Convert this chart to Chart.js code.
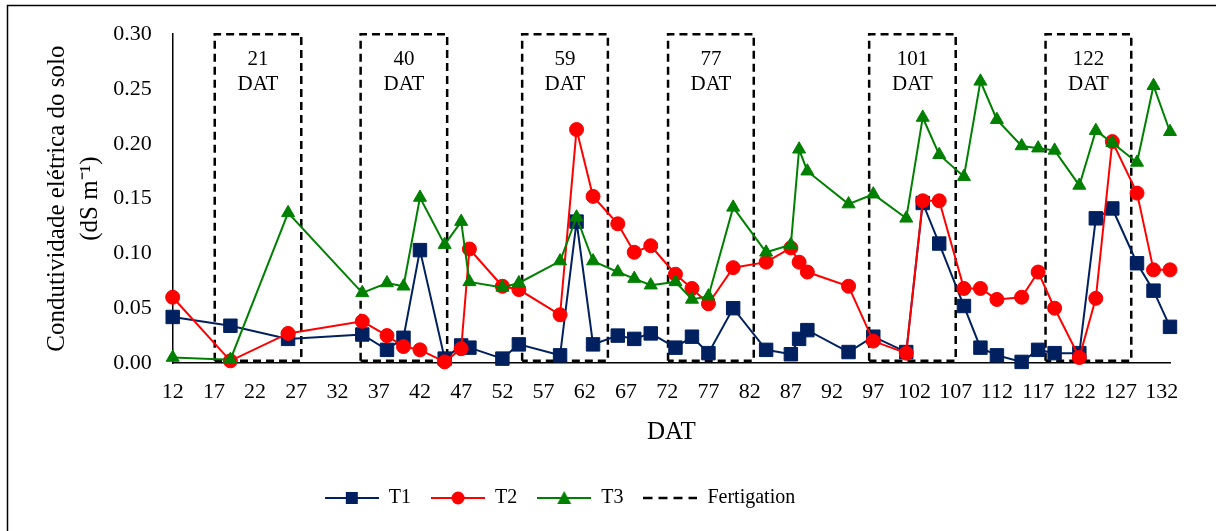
<!DOCTYPE html>
<html>
<head>
<meta charset="utf-8">
<title>Condutividade elétrica do solo</title>
<script src="https://cdn.jsdelivr.net/npm/chart.js"></script>
<style>
  body { margin: 0; background: #fff; }
</style>
</head>
<body>
<canvas id="myChart" width="1216" height="531"></canvas>
<script>
var navy = "rgba(0, 32, 96, 1)";
var red = "rgba(255, 0, 0, 1)";
var green = "rgba(0, 128, 0, 1)";

// days after transplanting (same for all treatments)
var dat = [12, 19, 26, 35, 38, 40, 42, 45, 47, 48, 52, 54, 59, 61, 63, 66, 68, 70, 73, 75, 77, 80,
           84, 87, 88, 89, 94, 97, 101, 103, 105, 108, 110, 112, 115, 117, 119, 122, 124, 126, 129, 131, 133];
var t1 = [0.042, 0.034, 0.022, 0.026, 0.012, 0.023, 0.103, 0.004, 0.016, 0.014, 0.004, 0.017, 0.007, 0.129,
          0.017, 0.025, 0.022, 0.027, 0.014, 0.024, 0.009, 0.050, 0.012, 0.008, 0.022, 0.030, 0.010, 0.024,
          0.010, 0.146, 0.109, 0.052, 0.014, 0.007, 0.001, 0.012, 0.009, 0.009, 0.132, 0.141, 0.091, 0.066, 0.033];
var t2 = [0.060, 0.002, 0.027, 0.038, 0.025, 0.015, 0.012, 0.001, 0.013, 0.104, 0.070, 0.067, 0.044, 0.213,
          0.152, 0.127, 0.101, 0.107, 0.081, 0.068, 0.054, 0.087, 0.092, 0.105, 0.092, 0.083, 0.070, 0.020,
          0.009, 0.148, 0.148, 0.068, 0.068, 0.058, 0.060, 0.083, 0.050, 0.005, 0.059, 0.202, 0.155, 0.085, 0.085];
var t3 = [0.005, 0.003, 0.137, 0.064, 0.073, 0.070, 0.151, 0.108, 0.129, 0.074, 0.069, 0.073, 0.093, 0.133,
          0.093, 0.083, 0.077, 0.071, 0.074, 0.058, 0.061, 0.142, 0.101, 0.108, 0.195, 0.175, 0.145, 0.154,
          0.132, 0.224, 0.190, 0.170, 0.257, 0.222, 0.198, 0.196, 0.194, 0.162, 0.212, 0.201, 0.183, 0.253, 0.211];

var xTicks = [12, 17, 22, 27, 32, 37, 42, 47, 52, 57, 62, 67, 72, 77, 82, 87, 92, 97, 102, 107, 112, 117, 122, 127, 132];
var yTicks = [0, 0.05, 0.1, 0.15, 0.2, 0.25, 0.3];

// fertigation windows
var fertDay = [21, 40, 59, 77, 101, 122];
var fertStart = [17.1, 34.8, 54.4, 72.1, 96.5, 117.9];
var fertEnd = [27.6, 45.3, 64.8, 82.5, 107.0, 128.3];
var fertTop = 0.30;
var fertBottom = 0.002;

function toPoints(vals) {
    return dat.map(function (d, i) { return {x: d, y: vals[i]}; });
}

var fertPoints = [];
fertDay.forEach(function (d, i) {
    fertPoints.push({x: fertStart[i], y: fertBottom}, {x: fertStart[i], y: fertTop},
        {x: fertEnd[i], y: fertTop}, {x: fertEnd[i], y: fertBottom},
        {x: fertStart[i], y: fertBottom}, {x: fertEnd[i], y: null});
});

// little line+marker pictures for the legend
function legendIcon(color, shape) {
    var c = document.createElement("canvas");
    c.width = 54;
    c.height = 18;
    var g = c.getContext("2d");
    g.strokeStyle = color;
    g.fillStyle = color;
    g.lineWidth = shape == "dash" ? 2.5 : 2;
    if (shape == "dash") g.setLineDash([9, 6]);
    g.beginPath();
    g.moveTo(0, 9);
    g.lineTo(54, 9);
    g.stroke();
    g.setLineDash([]);
    if (shape == "square") g.fillRect(21, 3, 12, 12);
    if (shape == "circle") {
        g.beginPath();
        g.arc(27, 9, 6.5, 0, Math.PI * 2);
        g.fill();
    }
    if (shape == "triangle") {
        g.beginPath();
        g.moveTo(27, 2);
        g.lineTo(34, 15);
        g.lineTo(20, 15);
        g.closePath();
        g.fill();
    }
    return c;
}
var legendIcons = [legendIcon(navy, "square"), legendIcon(red, "circle"),
                   legendIcon(green, "triangle"), legendIcon("#000", "dash")];

var frame = {
    id: "frame",
    beforeDraw: function (chart) {
        var ctx = chart.ctx;
        ctx.save();
        ctx.fillStyle = "#fff";
        ctx.fillRect(0, 0, chart.width, chart.height);
        ctx.strokeStyle = "#000";
        ctx.lineWidth = 1.5;
        ctx.strokeRect(7.5, 5.5, chart.width + 20, chart.height + 20);
        ctx.restore();
    }
};

var boxLabels = {
    id: "boxLabels",
    afterDatasetsDraw: function (chart) {
        var ctx = chart.ctx;
        var x = chart.scales.x;
        var y = chart.scales.y;
        ctx.save();
        ctx.font = '21px "Liberation Serif"';
        ctx.fillStyle = "#000";
        ctx.textAlign = "center";
        ctx.textBaseline = "middle";
        fertDay.forEach(function (d, i) {
            var cx = x.getPixelForValue((fertStart[i] + fertEnd[i]) / 2);
            ctx.fillText(String(d), cx, y.getPixelForValue(0.277));
            ctx.fillText("DAT", cx, y.getPixelForValue(0.254));
        });
        ctx.restore();
    }
};

var legendShift = {
    id: "legendShift",
    afterLayout: function (chart) {
        chart.legend.left -= 25;
        chart.legend.right -= 25;
    }
};

Chart.defaults.font.family = '"Liberation Serif", "Times New Roman", serif';
Chart.defaults.color = "#000";

new Chart("myChart", {
    type: "line",
    data: {
        datasets: [
            {
                label: "T1", data: toPoints(t1), order: 3,
                borderColor: navy, backgroundColor: navy, borderWidth: 2,
                pointStyle: "rect", pointRadius: 9.5, pointBorderWidth: 1, clip: false
            },
            {
                label: "T2", data: toPoints(t2), order: 2,
                borderColor: red, backgroundColor: red, borderWidth: 2,
                pointStyle: "circle", pointRadius: 7, pointBorderWidth: 1, clip: false
            },
            {
                label: "T3", data: toPoints(t3), order: 1,
                borderColor: green, backgroundColor: green, borderWidth: 2,
                pointStyle: "triangle", pointRadius: 7.5, pointBorderWidth: 1, clip: false
            },
            {
                label: "Fertigation", data: fertPoints, order: 4,
                borderColor: "#000", borderWidth: 2.5, borderDash: [8, 5],
                pointRadius: 0, fill: false, clip: false
            }
        ]
    },
    options: {
        responsive: false,
        animation: false,
        events: [],
        layout: { padding: { top: 34, right: 46, bottom: 13, left: 0 } },
        elements: { line: { tension: 0 } },
        plugins: {
            tooltip: { enabled: false },
            legend: {
                position: "bottom",
                labels: {
                    usePointStyle: true,
                    pointStyleWidth: 54,
                    padding: 20,
                    font: { size: 20 },
                    color: "#000",
                    generateLabels: function (chart) {
                        return chart.data.datasets.map(function (ds, i) {
                            return {
                                text: ds.label, pointStyle: legendIcons[i], datasetIndex: i,
                                fillStyle: "transparent", strokeStyle: "transparent",
                                lineWidth: 0, hidden: false, fontColor: "#000"
                            };
                        });
                    }
                }
            }
        },
        scales: {
            x: {
                type: "linear", min: 12, max: 133,
                grid: { display: false, drawTicks: false },
                border: { color: "#000", width: 1.5 },
                ticks: { font: { size: 22 }, padding: 16, autoSkip: false, maxRotation: 0 },
                afterBuildTicks: function (scale) {
                    scale.ticks = xTicks.map(function (v) { return {value: v}; });
                },
                afterFit: function (scale) { scale.height = 105; },
                title: { display: true, text: "DAT", font: { size: 25 }, padding: { top: 0, bottom: 21 } }
            },
            y: {
                min: 0, max: 0.30,
                grid: { display: false, drawTicks: false },
                border: { color: "#000", width: 1.5 },
                ticks: {
                    font: { size: 22 }, padding: 21,
                    callback: function (v) { return Number(v).toFixed(2); }
                },
                afterBuildTicks: function (scale) {
                    scale.ticks = yTicks.map(function (v) { return {value: v}; });
                },
                afterFit: function (scale) { scale.width = 172.7; },
                title: {
                    display: true,
                    text: ["Condutividade elétrica do solo", "(dS m\u207B\u00B9)"],
                    font: { size: 25, lineHeight: 1.32 },
                    padding: { top: 40.5, bottom: 0 }
                }
            }
        }
    },
    plugins: [frame, boxLabels, legendShift]
});
</script>
</body>
</html>
